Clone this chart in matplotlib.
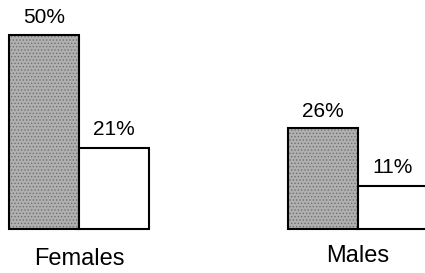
import matplotlib
matplotlib.use("Agg")
import matplotlib.pyplot as plt
import numpy as np

plt.rcParams['font.family'] = ['Liberation Sans', 'DejaVu Sans']
plt.rcParams['hatch.linewidth'] = 0.6

groups = ["Females", "Males"]
shaded_values = [50, 26]
white_values = [21, 11]

fig = plt.figure(figsize=(4.25, 2.73), dpi=100)
ax = fig.add_axes([0, 0, 1, 1])
ax.set_xlim(-0.283, 1.240)
ax.set_ylim(-11.3, 59.0)
ax.axis('off')

x = np.arange(len(groups))
w = 0.25

# shaded bars
ax.bar(x - w / 2, shaded_values, width=w, color='#b0b0b0', edgecolor='none', zorder=1)
ax.bar(x - w / 2, shaded_values, width=w, fill=False, edgecolor='#707070', hatch='.....',
       linewidth=0, zorder=2)
ax.bar(x - w / 2, shaded_values, width=w, fill=False, edgecolor='black', linewidth=1.5, zorder=3)
# white bars
ax.bar(x + w / 2, white_values, width=w, color='white', edgecolor='black', linewidth=1.5, zorder=3)

for xi, v in zip(x - w / 2, shaded_values):
    ax.annotate(f"{v}%", (xi, v), xytext=(0, 5.5), textcoords='offset points',
                ha='center', va='bottom', fontsize=15)
for xi, v in zip(x + w / 2, white_values):
    ax.annotate(f"{v}%", (xi, v), xytext=(0, 6.5), textcoords='offset points',
                ha='center', va='bottom', fontsize=15)

ax.text(0, -7.6, groups[0], ha='center', va='center', fontsize=17)
ax.text(1, -6.9, groups[1], ha='center', va='center', fontsize=17)

fig.savefig("out.png", dpi=100)
